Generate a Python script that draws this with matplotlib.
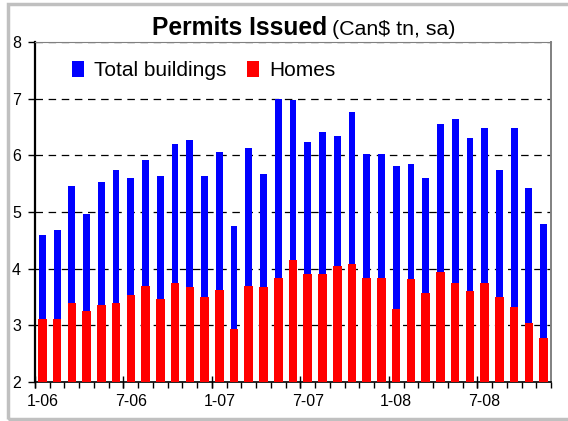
import numpy as np
import matplotlib
matplotlib.use('Agg')
import matplotlib.pyplot as plt
from matplotlib.patches import Rectangle

plt.rcParams['font.family'] = ['Liberation Sans', 'DejaVu Sans']

# monthly data, Jan 2006 - Nov 2008 (Can$ bn, sa)
months = ['1-06', '2-06', '3-06', '4-06', '5-06', '6-06', '7-06', '8-06', '9-06', '10-06', '11-06', '12-06',
          '1-07', '2-07', '3-07', '4-07', '5-07', '6-07', '7-07', '8-07', '9-07', '10-07', '11-07', '12-07',
          '1-08', '2-08', '3-08', '4-08', '5-08', '6-08', '7-08', '8-08', '9-08', '10-08', '11-08']
total_buildings = [4.59, 4.69, 5.46, 4.97, 5.53, 5.74, 5.60, 5.92, 5.64, 6.20, 6.27, 5.64,
                   6.06, 4.76, 6.13, 5.67, 7.00, 6.97, 6.23, 6.41, 6.34, 6.76, 6.02, 6.02,
                   5.81, 5.85, 5.60, 6.55, 6.65, 6.30, 6.48, 5.74, 6.48, 5.43, 4.79]
homes = [3.11, 3.11, 3.39, 3.25, 3.36, 3.39, 3.53, 3.70, 3.46, 3.74, 3.67, 3.50,
         3.63, 2.94, 3.70, 3.67, 3.84, 4.16, 3.91, 3.91, 4.05, 4.09, 3.84, 3.84,
         3.29, 3.81, 3.57, 3.95, 3.74, 3.60, 3.74, 3.50, 3.32, 3.04, 2.77]

x = np.arange(len(months))

fig = plt.figure(figsize=(5.68, 4.21), dpi=100)
ax = fig.add_axes([35/568, 1-382/421, 516/568, 340/421])

ax.bar(x, total_buildings, width=0.46, color='#0000ff', label='Total buildings', zorder=2)
ax.bar(x, homes, width=0.58, color='#ff0000', label='Homes', zorder=3)

ax.set_xlim(-0.5, len(months) - 0.5)
ax.set_ylim(2, 8)
ax.set_yticks([2, 3, 4, 5, 6, 7, 8])
ax.set_axisbelow(True)
ax.yaxis.grid(True, color='black', linestyle=(0, (6, 4.5)), linewidth=0.9)

# labels every 6 months at bar centres, ticks between categories
ax.set_xticks(x[::6])
ax.set_xticklabels(months[::6])
ax.set_xticks(np.arange(len(months) + 1) - 0.5, minor=True)
ax.tick_params(axis='x', which='major', length=0, labelsize=11.5, pad=9)
ax.tick_params(axis='x', which='minor', direction='out', length=4, width=1)
ax.tick_params(axis='y', direction='out', length=5, width=1, labelsize=11.5, pad=5)

sec = ax.secondary_xaxis(0)
sec.set_xticks(np.arange(-0.5, len(months), 6))
sec.tick_params(direction='inout', length=8, width=1, labelbottom=False)
sec.spines['bottom'].set_visible(False)

ax.spines['left'].set_linewidth(1.6)
ax.spines['bottom'].set_linewidth(1.2)
ax.spines['top'].set_color('#808080')
ax.spines['right'].set_color('#808080')
ax.spines['right'].set_linewidth(1.4)

ax.legend(loc='upper left', bbox_to_anchor=(0.035, 1.0), ncol=2, frameon=False,
          fontsize=15, handlelength=0.6, handleheight=0.85, handletextpad=0.45,
          columnspacing=1.0)

# title in two weights
fig.text(327/568, 1-35/421, 'Permits Issued', ha='right', va='baseline',
         fontsize=17.7, fontweight='bold')
fig.text(332/568, 1-35/421, '(Can$ tn, sa)', ha='left', va='baseline', fontsize=15.4)

# grey chart border
fig.patches.append(Rectangle((8/568, 2/421), 570/568, 415/421, transform=fig.transFigure,
                             fill=False, edgecolor='#c0c0c0', linewidth=2.5))

plt.savefig('out.png', dpi=100)
